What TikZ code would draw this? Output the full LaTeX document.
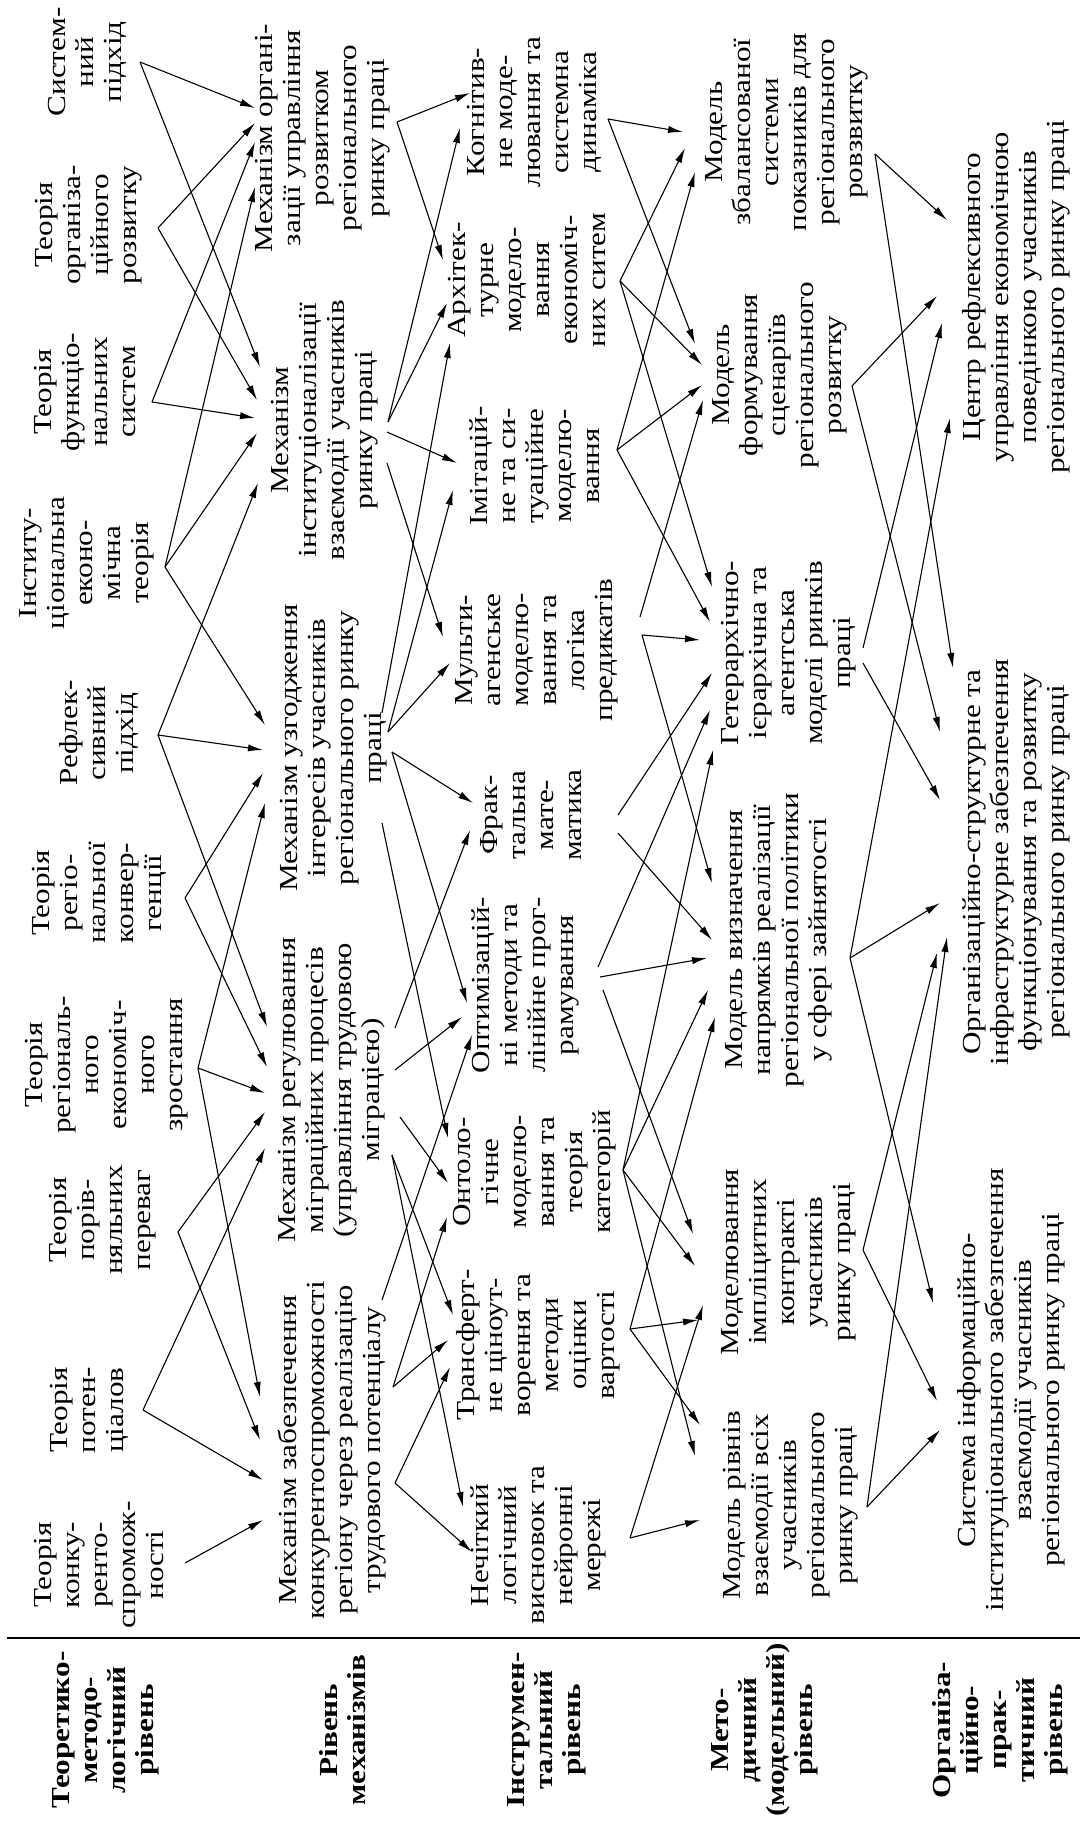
\documentclass[tikz,border=0pt]{standalone}
\usepackage{fontspec}
\setmainfont[FakeStretch=1.2]{Liberation Serif}
\usetikzlibrary{arrows.meta}
\newcommand\myfs{\fontsize{13pt}{14pt}\selectfont}
\begin{document}
\begin{tikzpicture}[x=0.5pt,y=-0.5pt,
  txt/.style={rotate=90,align=center,font=\myfs,inner sep=0pt},
  lbl/.style={rotate=90,align=center,font=\myfs\bfseries,inner sep=0pt},
  arr/.style={-{Latex[length=7.5pt,width=3.6pt]},line width=0.55pt}]
\fill[white] (0,0) rectangle (1080,1825);
\useasboundingbox (0,0) rectangle (1080,1825);
% ---------- theory level
\node[txt] (tSist) at (87,62) {Систем-\\ний\\підхід};
\node[txt] (tOrg) at (89,225) {Теорія\\організа-\\ційного\\розвитку};
\node[txt] (tFunc) at (85,392) {Теорія\\функціо-\\нальних\\систем};
\node[txt] (tInst) at (87,563) {Інститу-\\ціональна\\еконо-\\мічна\\теорія};
\node[txt] (tRefl) at (99,733) {Рефлек-\\сивний\\підхід};
\node[txt] (tConv) at (99,893) {Теорія\\регіо-\\нальної\\конвер-\\генції};
\node[txt] (tGrow) at (107,1065) {Теорія\\регіональ-\\ного\\економіч-\\ного\\зростання};
\node[txt] (tComp) at (103,1220) {Теорія\\порів-\\няльних\\переваг};
\node[txt] (tPot) at (89,1410) {Теорія\\потен-\\ціалов};
\node[txt] (tKonk) at (99,1565) {Теорія\\конку-\\ренто-\\спромож-\\ності};
% ---------- mechanisms
\node[txt] (mOrg) at (323,138) {Механізм органі-\\зації управління\\розвитком\\регіонального\\ринку праці};
\node[txt] (mInst) at (325,430) {Механізм\\інституціоналізації\\взаємодії учасників\\ринку праці};
\node[txt] (mAgr) at (334,748) {Механізм узгодження\\інтересів учасників\\регіонального ринку\\праці};
\node[txt] (mReg) at (332,1090) {Механізм регулювання\\міграційних процесів\\(управління трудовою\\міграцією)};
\node[txt] (mZab) at (332,1450) {Механізм забезпечення\\конкурентоспроможності\\регіону через реалізацію\\трудового потенціалу};
% ---------- instruments
\node[txt] (iKog) at (534,112) {Когнітив-\\не моде-\\лювання та\\системна\\динаміка};
\node[txt] (iArch) at (527,280) {Архітек-\\турне\\модело-\\вання\\економіч-\\них ситем};
\node[txt] (iImit) at (535,466) {Імітацій-\\не та си-\\туаційне\\моделю-\\вання};
\node[txt] (iMulti) at (537,650) {Мульти-\\агенське\\моделю-\\вання та\\логіка\\предикатів};
\node[txt] (iFrac) at (531,815) {Фрак-\\тальна\\мате-\\матика};
\node[txt] (iOpt) at (525,985) {Оптимізацій-\\ні методи та\\лінійне прог-\\рамування};
\node[txt] (iOnt) at (535,1172) {Онтоло-\\гічне\\моделю-\\вання та\\теорія\\категорій};
\node[txt] (iTrans) at (538,1345) {Трансферт-\\не ціноут-\\ворення та\\методи\\оцінки\\вартості};
\node[txt] (iFuzzy) at (538,1545) {Нечіткий\\логічний\\висновок та\\нейронні\\мережі};
% ---------- models
\node[txt] (dBal) at (787,132) {Модель\\збалансованої\\системи\\показників для\\регіонального\\ровзвитку};
\node[txt] (dScen) at (780,375) {Модель\\формування\\сценаріїв\\регіонального\\розвитку};
\node[txt] (dHet) at (789,653) {Гетерархічно-\\ієрархічна та\\агентська\\моделі ринків\\праці};
\node[txt] (dDir) at (779,940) {Модель визначення\\напрямків реалізації\\регіональної політики\\у сфері зайнятості};
\node[txt] (dImpl) at (789,1262) {Моделювання\\імпліцитних\\контракті\\учасників\\ринку праці};
\node[txt] (dLev) at (791,1505) {Модель рівнів\\взаємодії всіх\\учасників\\регіонального\\ринку праці};
% ---------- organisation
\node[txt] (oCent) at (1016,297) {Центр рефлексивного\\управління економічною\\поведінкою учасників\\регіонального ринку праці};
\node[txt] (oOrg) at (1016,862) {Організаційно-структурне та\\інфраструктурне забезпечення\\функціонування та розвитку\\регіонального ринку праці};
\node[txt] (oSys) at (1011,1390) {Система інформаційно-\\інституціонального забезпечення\\взаємодії учасників\\регіонального ринку праці};
% ---------- level labels
\coordinate (ruleL) at (7,1638);
\coordinate (ruleR) at (1080,1638);
\draw[line width=1.3pt] (ruleL) -- (ruleR);
\node[lbl] (lab1) at (106,1730) {Теоретико-\\методо-\\логічний\\рівень};
\node[lbl] (lab2) at (343,1730) {Рівень\\механізмів};
\node[lbl] (lab3) at (547,1730) {Інструмен-\\тальний\\рівень};
\node[lbl] (lab4) at (765,1730) {Мето-\\дичний\\(модельний)\\рівень};
\node[lbl] (lab5) at (1000,1730) {Організа-\\ційно-\\прак-\\тичний\\рівень};
% ---------- band A: theory -> mechanisms
\coordinate (fSist) at (140,62);
\coordinate (fOrg) at (158,228);
\coordinate (fFunc) at (152,402);
\coordinate (fInst) at (165,567);
\coordinate (fRefl) at (158,735);
\coordinate (fConv) at (185,898);
\coordinate (fGrow) at (198,1068);
\coordinate (fComp) at (178,1232);
\coordinate (fPot) at (143,1410);
\coordinate (fKonk) at (185,1563);
\coordinate (mo1) at (255,108); \coordinate (mo2) at (255,123);
\coordinate (mo3) at (255,142); \coordinate (mo4) at (255,187);
\coordinate (mi1) at (260,367); \coordinate (mi2) at (257,400);
\coordinate (mi3) at (255,418); \coordinate (mi4) at (257,433);
\coordinate (mi5) at (258,483);
\coordinate (ma1) at (265,725); \coordinate (ma2) at (263,750);
\coordinate (ma3) at (263,773); \coordinate (ma4) at (265,803);
\coordinate (mr1) at (267,1027); \coordinate (mr2) at (267,1067);
\coordinate (mr3) at (265,1093); \coordinate (mr4) at (265,1112);
\coordinate (mr5) at (265,1148);
\coordinate (mz1) at (260,1397); \coordinate (mz2) at (260,1440);
\coordinate (mz3) at (263,1480); \coordinate (mz4) at (263,1520);
\foreach \a/\b in {fSist/mo1,fSist/mi1,fOrg/mo2,fOrg/mi2,fFunc/mo3,fFunc/mi3,
  fInst/mo4,fInst/mi4,fInst/ma1,fRefl/mi5,fRefl/ma2,fRefl/mr1,fConv/ma3,fConv/mr2,
  fGrow/ma4,fGrow/mr3,fGrow/mz1,fComp/mr4,fComp/mz2,fPot/mr5,fPot/mz3,fKonk/mz4}
  \draw[arr] (\a) -- (\b);
% ---------- band B: mechanisms -> instruments
\coordinate (gOrg) at (397,122);
\coordinate (gInstA) at (388,422);
\coordinate (gInstB) at (387,432);
\coordinate (gInstC) at (387,463);
\coordinate (gAgrA) at (382,713);
\coordinate (gAgrB) at (388,732);
\coordinate (gAgrC) at (392,752);
\coordinate (gAgrD) at (382,823);
\coordinate (gReg1) at (395,1028);
\coordinate (gReg2) at (395,1070);
\coordinate (gReg3) at (400,1117);
\coordinate (gReg4) at (392,1155);
\coordinate (gZab1) at (382,1300);
\coordinate (gZab2) at (393,1387);
\coordinate (gZab3) at (395,1483);
\coordinate (ik1) at (470,93); \coordinate (ik2) at (460,128);
\coordinate (ia1) at (443,260); \coordinate (ia2) at (447,303); \coordinate (ia3) at (450,343);
\coordinate (ii1) at (457,463); \coordinate (ii2) at (453,490);
\coordinate (iu1) at (443,637); \coordinate (iu2) at (450,663);
\coordinate (iq1) at (473,803); \coordinate (iq2) at (470,830);
\coordinate (io1) at (467,1003); \coordinate (io2) at (462,1017); \coordinate (io3) at (472,1035);
\coordinate (in1) at (448,1138); \coordinate (in2) at (448,1183); \coordinate (in3) at (447,1217);
\coordinate (it1) at (453,1315); \coordinate (it2) at (448,1340); \coordinate (it3) at (450,1367);
\coordinate (iz1) at (463,1507); \coordinate (iz2) at (472,1552);
\foreach \a/\b in {gOrg/ik1,gOrg/ia1,gInstA/ik2,gInstA/ia2,gInstB/ii1,gInstC/iu1,
  gAgrA/ia3,gAgrB/ii2,gAgrB/iu2,gAgrC/iq1,gAgrC/io1,gAgrD/in1,
  gReg1/iq2,gReg2/io2,gReg3/in2,gReg4/it1,gReg4/iz1,
  gZab1/io3,gZab2/in3,gZab2/it2,gZab3/it3,gZab3/iz2}
  \draw[arr] (\a) -- (\b);
% ---------- band C: instruments -> models
\coordinate (hKog) at (608,119);
\coordinate (hArch) at (620,281);
\coordinate (hImit) at (617,450);
\coordinate (hMultiA) at (640,617);
\coordinate (hMultiB) at (642,635);
\coordinate (hFracA) at (618,815);
\coordinate (hFracB) at (618,833);
\coordinate (hOptA) at (598,967);
\coordinate (hOptB) at (600,977);
\coordinate (hOptC) at (603,990);
\coordinate (hOnt) at (623,1170);
\coordinate (hTrans) at (630,1329);
\coordinate (hFuzzy) at (630,1538);
\coordinate (db1) at (683,132); \coordinate (db2) at (685,148); \coordinate (db3) at (695,172);
\coordinate (ds1) at (695,344); \coordinate (ds2) at (702,365);
\coordinate (ds3) at (702,385); \coordinate (ds4) at (703,400);
\coordinate (dh1) at (712,587); \coordinate (dh2) at (710,622); \coordinate (dh3) at (700,640);
\coordinate (dh4) at (712,673); \coordinate (dh5) at (710,710); \coordinate (dh6) at (713,750);
\coordinate (dv1) at (712,883); \coordinate (dv2) at (712,940); \coordinate (dv3) at (707,958);
\coordinate (dv4) at (708,990); \coordinate (dv5) at (715,1017);
\coordinate (dw1) at (693,1234); \coordinate (dw2) at (695,1266);
\coordinate (dw3) at (703,1305); \coordinate (dw4) at (698,1320);
\coordinate (dl1) at (700,1425); \coordinate (dl2) at (695,1456); \coordinate (dl3) at (700,1520);
\foreach \a/\b in {hKog/db1,hKog/ds1,hArch/db2,hArch/ds2,hArch/dh1,
  hImit/db3,hImit/ds3,hImit/dh2,hMultiA/ds4,hMultiB/dh3,hMultiB/dv1,
  hFracA/dh4,hFracB/dv2,hOptA/dh5,hOptB/dv3,hOptC/dw1,
  hOnt/dh6,hOnt/dv4,hOnt/dw2,hOnt/dl2,hTrans/dv5,hTrans/dw4,hTrans/dl1,
  hFuzzy/dw3,hFuzzy/dl3}
  \draw[arr] (\a) -- (\b);
% ---------- band D: models -> organisation
\coordinate (jBal) at (875,154);
\coordinate (jScen) at (852,386);
\coordinate (jHetA) at (863,648);
\coordinate (jHetB) at (863,663);
\coordinate (jDir) at (850,958);
\coordinate (jImpl) at (863,1250);
\coordinate (jLev) at (867,1507);
\coordinate (oc1) at (947,220); \coordinate (oc2) at (937,296);
\coordinate (oc3) at (942,323); \coordinate (oc4) at (950,418);
\coordinate (og1) at (953,668); \coordinate (og2) at (940,732); \coordinate (og3) at (940,800);
\coordinate (og4) at (940,903); \coordinate (og5) at (947,937); \coordinate (og6) at (937,953);
\coordinate (oy1) at (933,1303); \coordinate (oy2) at (937,1401); \coordinate (oy3) at (940,1430);
\foreach \a/\b in {jBal/oc1,jBal/og1,jScen/oc2,jScen/og2,jHetA/oc3,jHetB/og3,
  jDir/oc4,jDir/og4,jDir/oy1,jImpl/og6,jImpl/oy2,jLev/og5,jLev/oy3}
  \draw[arr] (\a) -- (\b);
\end{tikzpicture}
\end{document}
